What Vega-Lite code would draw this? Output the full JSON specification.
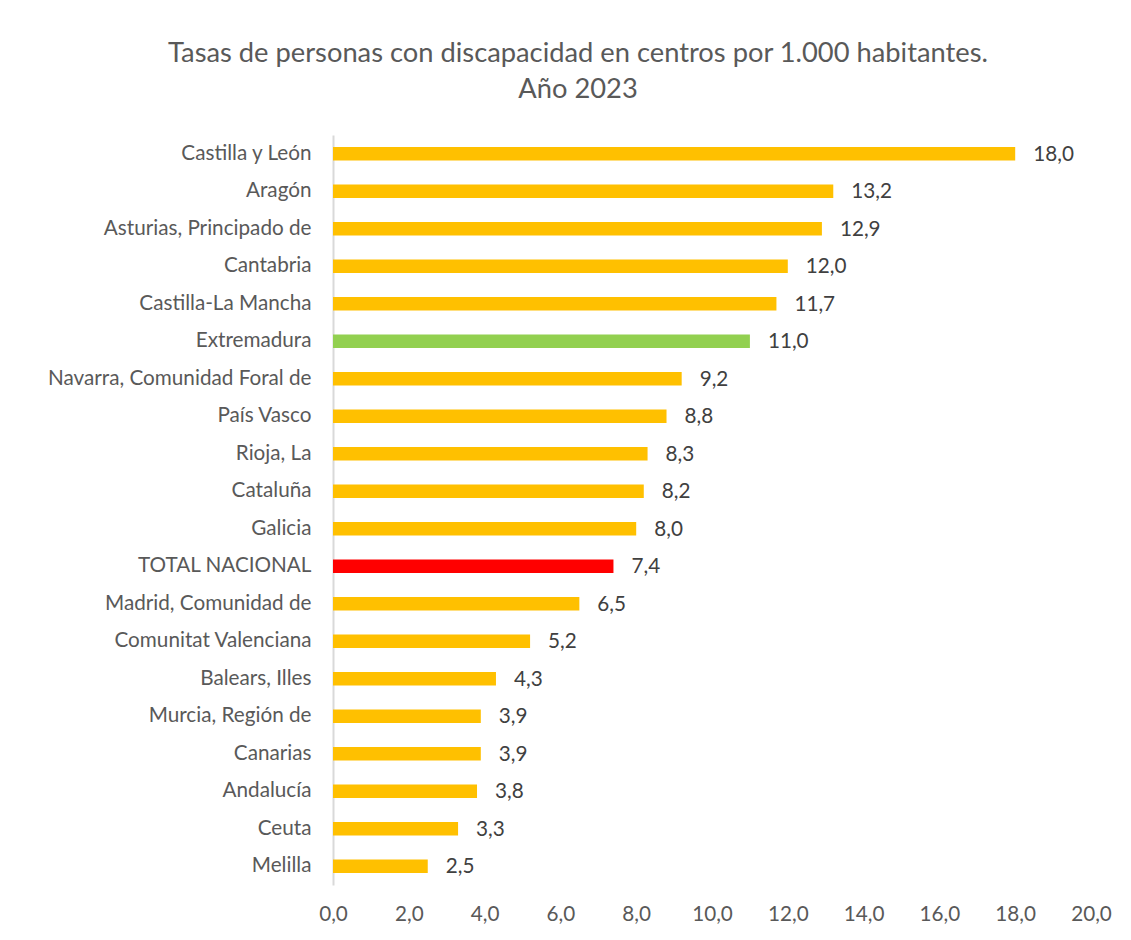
{
  "$schema": "https://vega.github.io/schema/vega-lite/v6.json",
  "autosize": "none",
  "width": 758,
  "height": 750,
  "padding": {"left": 333, "top": 135, "right": 40, "bottom": 55},
  "background": "white",
  "config": {
    "font": "Lato",
    "view": {"stroke": null},
    "locale": {"number": {"decimal": ",", "thousands": ".", "grouping": [3], "currency": ["", " €"]}}
  },
  "title": {
    "text": ["Tasas de personas con discapacidad en centros por 1.000 habitantes.", "Año 2023"],
    "anchor": "middle",
    "frame": "group",
    "dx": -134,
    "offset": 32,
    "fontSize": 27.3,
    "fontWeight": "normal",
    "color": "#595959",
    "lineHeight": 36,
    "font": "Lato"
  },
  "data": {
    "values": [
      {"region": "Castilla y León", "valor": 18.0, "tipo": "ccaa"},
      {"region": "Aragón", "valor": 13.2, "tipo": "ccaa"},
      {"region": "Asturias, Principado de", "valor": 12.9, "tipo": "ccaa"},
      {"region": "Cantabria", "valor": 12.0, "tipo": "ccaa"},
      {"region": "Castilla-La Mancha", "valor": 11.7, "tipo": "ccaa"},
      {"region": "Extremadura", "valor": 11.0, "tipo": "extremadura"},
      {"region": "Navarra, Comunidad Foral de", "valor": 9.2, "tipo": "ccaa"},
      {"region": "País Vasco", "valor": 8.8, "tipo": "ccaa"},
      {"region": "Rioja, La", "valor": 8.3, "tipo": "ccaa"},
      {"region": "Cataluña", "valor": 8.2, "tipo": "ccaa"},
      {"region": "Galicia", "valor": 8.0, "tipo": "ccaa"},
      {"region": "TOTAL NACIONAL", "valor": 7.4, "tipo": "total"},
      {"region": "Madrid, Comunidad de", "valor": 6.5, "tipo": "ccaa"},
      {"region": "Comunitat Valenciana", "valor": 5.2, "tipo": "ccaa"},
      {"region": "Balears, Illes", "valor": 4.3, "tipo": "ccaa"},
      {"region": "Murcia, Región de", "valor": 3.9, "tipo": "ccaa"},
      {"region": "Canarias", "valor": 3.9, "tipo": "ccaa"},
      {"region": "Andalucía", "valor": 3.8, "tipo": "ccaa"},
      {"region": "Ceuta", "valor": 3.3, "tipo": "ccaa"},
      {"region": "Melilla", "valor": 2.5, "tipo": "ccaa"}
    ]
  },
  "encoding": {
    "y": {
      "field": "region",
      "type": "nominal",
      "sort": null,
      "scale": {"paddingInner": 0.64, "paddingOuter": 0.32},
      "axis": {
        "title": null,
        "ticks": false,
        "domain": true,
        "domainColor": "#d9d9d9",
        "domainWidth": 2,
        "labelPadding": 22,
        "labelFontSize": 20.7,
        "labelColor": "#595959",
        "labelFont": "Lato",
        "labelLimit": 400
      }
    },
    "x": {
      "field": "valor",
      "type": "quantitative",
      "scale": {"domain": [0, 20], "nice": false},
      "axis": {
        "title": null,
        "values": [0, 2, 4, 6, 8, 10, 12, 14, 16, 18, 20],
        "format": ".1f",
        "ticks": false,
        "domain": false,
        "grid": false,
        "labelFlush": false,
        "labelOverlap": false,
        "labelPadding": 19,
        "labelFontSize": 20.7,
        "labelColor": "#595959",
        "labelFont": "Lato"
      }
    }
  },
  "layer": [
    {
      "mark": {"type": "bar"},
      "encoding": {
        "color": {
          "field": "tipo",
          "type": "nominal",
          "scale": {"domain": ["ccaa", "extremadura", "total"], "range": ["#FFC000", "#92D050", "#FF0000"]},
          "legend": null
        }
      }
    },
    {
      "mark": {"type": "text", "align": "left", "baseline": "middle", "dx": 18, "dy": 1, "fontSize": 20.7, "color": "#404040", "font": "Lato"},
      "encoding": {
        "text": {"field": "valor", "type": "quantitative", "format": ".1f"}
      }
    }
  ]
}
